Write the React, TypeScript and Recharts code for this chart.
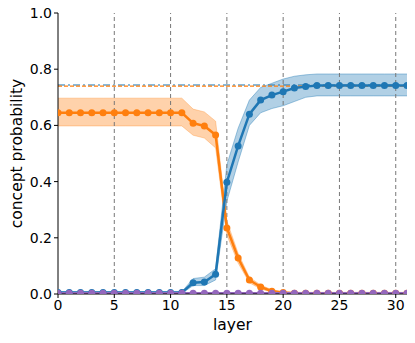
import React from "react";
import { ComposedChart, Line, Area, XAxis, YAxis, ReferenceLine } from "recharts";

const layers = Array.from({ length: 32 }, (_, i) => i);
const orangeMean = [0.645,0.645,0.645,0.645,0.645,0.645,0.645,0.645,0.645,0.645,0.645,0.645,0.608,0.598,0.566,0.235,0.128,0.05,0.025,0.01,0.005,0.003,0.003,0.003,0.003,0.003,0.003,0.003,0.003,0.003,0.003,0.003];
const orangeLow = [0.598,0.598,0.598,0.598,0.598,0.598,0.598,0.598,0.598,0.598,0.598,0.598,0.565,0.555,0.52,0.21,0.11,0.04,0.018,0.006,0.002,0.001,0.001,0.001,0.001,0.001,0.001,0.001,0.001,0.001,0.001,0.001];
const orangeHigh = [0.697,0.697,0.697,0.697,0.697,0.697,0.697,0.697,0.697,0.697,0.697,0.697,0.658,0.648,0.615,0.26,0.145,0.06,0.032,0.015,0.008,0.006,0.006,0.006,0.006,0.006,0.006,0.006,0.006,0.006,0.006,0.006];
const blueMean = [0.005,0.005,0.005,0.005,0.005,0.005,0.005,0.005,0.005,0.005,0.005,0.005,0.04,0.043,0.07,0.398,0.527,0.64,0.69,0.708,0.72,0.733,0.738,0.742,0.742,0.742,0.742,0.742,0.742,0.742,0.742,0.742];
const blueLow = [0.002,0.002,0.002,0.002,0.002,0.002,0.002,0.002,0.002,0.002,0.002,0.002,0.03,0.03,0.05,0.33,0.47,0.6,0.645,0.66,0.67,0.685,0.7,0.705,0.705,0.705,0.705,0.705,0.705,0.705,0.705,0.705];
const blueHigh = [0.008,0.008,0.008,0.008,0.008,0.008,0.008,0.008,0.008,0.008,0.008,0.008,0.055,0.06,0.09,0.46,0.59,0.69,0.735,0.75,0.765,0.775,0.78,0.783,0.783,0.783,0.783,0.783,0.783,0.783,0.783,0.783];
const purpleMean = Array.from({ length: 32 }, () => 0.003);
const blueBaseline = 0.744;
const orangeBaseline = 0.74;
const xTicks = [0, 5, 10, 15, 20, 25, 30];
const yTicks = [0, 0.2, 0.4, 0.6, 0.8, 1.0];

const data = layers.map((l, i) => ({
  layer: l,
  orange: orangeMean[i],
  orangeBand: [orangeLow[i], orangeHigh[i]],
  blue: blueMean[i],
  blueBand: [blueLow[i], blueHigh[i]],
  purple: purpleMean[i],
}));

const BLUE = "#1f77b4";
const ORANGE = "#ff7f0e";
const PURPLE = "#9467bd";
const font = "DejaVu Sans";

export default function App() {
  return (
    <div style={{ position: "absolute", left: 0, top: 0 }}>
      <ComposedChart
        width={415}
        height={343}
        data={data}
        margin={{ top: 13, right: 8, bottom: 0, left: 0 }}
      >
        <XAxis
          dataKey="layer"
          type="number"
          domain={[0, 31]}
          ticks={xTicks}
          allowDataOverflow
          height={49}
          stroke="#000"
          tickLine={{ stroke: "#000" }}
          tickSize={4}
          tick={{ fill: "#000", fontSize: 14, fontFamily: font }}
          label={{ value: "layer", position: "insideBottom", offset: 13, fill: "#000", fontSize: 15.5, fontFamily: font }}
        />
        <YAxis
          type="number"
          domain={[0, 1]}
          ticks={yTicks}
          allowDataOverflow
          width={58}
          stroke="#000"
          tickLine={{ stroke: "#000" }}
          tickSize={4}
          tickFormatter={(v: number) => v.toFixed(1)}
          tick={{ fill: "#000", fontSize: 14, fontFamily: font }}
          label={{ value: "concept probability", angle: -90, position: "insideLeft", offset: 16, style: { textAnchor: "middle" }, fill: "#000", fontSize: 15.5, fontFamily: font }}
        />
        {xTicks.slice(1).map((t) => (
          <ReferenceLine key={t} x={t} stroke="#777" strokeDasharray="4 3" strokeWidth={1} />
        ))}
        <ReferenceLine y={blueBaseline} stroke={BLUE} strokeOpacity={0.7} strokeDasharray="7 3 2 3" strokeWidth={1.5} />
        <ReferenceLine y={orangeBaseline} stroke={ORANGE} strokeDasharray="4 2" strokeWidth={1.3} />
        <Area dataKey="orangeBand" stroke={ORANGE} strokeOpacity={0.3} fill={ORANGE} fillOpacity={0.35} isAnimationActive={false} />
        <Area dataKey="blueBand" stroke={BLUE} strokeOpacity={0.4} fill={BLUE} fillOpacity={0.35} isAnimationActive={false} />
        <Line dataKey="orange" stroke={ORANGE} strokeWidth={2.5} dot={{ r: 3.5, fill: ORANGE, stroke: ORANGE, strokeWidth: 0 }} isAnimationActive={false} />
        <Line dataKey="blue" stroke={BLUE} strokeWidth={2.5} dot={{ r: 3.5, fill: BLUE, stroke: BLUE, strokeWidth: 0 }} isAnimationActive={false} />
        <Line dataKey="purple" stroke={PURPLE} strokeWidth={2.5} dot={{ r: 3.5, fill: PURPLE, stroke: PURPLE, strokeWidth: 0 }} isAnimationActive={false} />
      </ComposedChart>
    </div>
  );
}
